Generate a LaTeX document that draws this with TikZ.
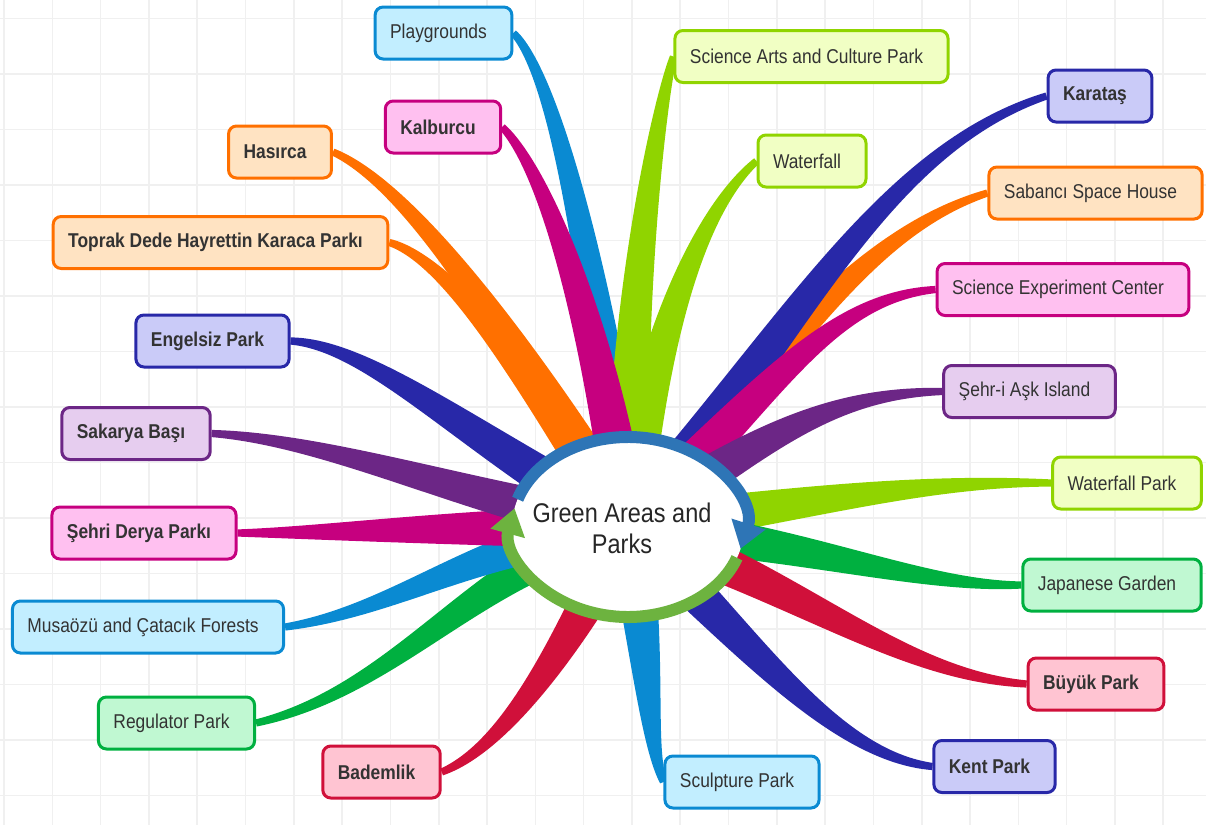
\documentclass[tikz,border=0pt]{standalone}
\usepackage{fontspec}
\setmainfont[FakeStretch=0.87]{Liberation Sans}
\usetikzlibrary{calc}
\usetikzlibrary{arrows.meta}
\usetikzlibrary{backgrounds}

\definecolor{gridC}{HTML}{F0F0F0}
\definecolor{txt}{HTML}{333333}
\definecolor{cyanC}{HTML}{0A8AD2}\definecolor{cyanF}{HTML}{C2EEFF}
\definecolor{limeC}{HTML}{90D400}\definecolor{limeF}{HTML}{F1FFC4}
\definecolor{navyC}{HTML}{2828A8}\definecolor{navyF}{HTML}{CACBF8}
\definecolor{orngC}{HTML}{FF7000}\definecolor{orngF}{HTML}{FFE3C2}
\definecolor{magC}{HTML}{C6007F}\definecolor{magF}{HTML}{FFC0F0}
\definecolor{purpC}{HTML}{6C2686}\definecolor{purpF}{HTML}{E6CDEF}
\definecolor{grnC}{HTML}{00B040}\definecolor{grnF}{HTML}{C0F8D2}
\definecolor{redC}{HTML}{D0103A}\definecolor{redF}{HTML}{FFC4D2}
\definecolor{ringB}{HTML}{2E75B6}
\definecolor{ringG}{HTML}{6DB33F}

% tapered branch: colour, end anchor, control near hub, control near end
\newcommand\twig[4]{%
\fill[#1] ($(hub)!11pt!90:(#3)$) .. controls ($(#3)!9pt!-90:(hub)$) and ($(#4)!3.5pt!90:(#2)$) .. ($(#2)!1.8pt!-90:(#4)$)
 -- ($(#2)!1.8pt!90:(#4)$) .. controls ($(#4)!3.5pt!-90:(#2)$) and ($(#3)!9pt!90:(hub)$) .. ($(hub)!11pt!-90:(#3)$) -- cycle;}

\begin{document}
\begin{tikzpicture}[x=0.5pt,y=-0.5pt,
 leaf/.style={draw, line width=1.5pt, rounded corners=4pt, minimum height=26pt, inner xsep=7.5pt, text=txt,
  font=\fontsize{10}{12}\selectfont, execute at end node={\hspace{5pt}}},
 heavy/.style={font=\fontsize{10}{12}\selectfont\bfseries},
 cyanbox/.style={leaf, draw=cyanC, fill=cyanF},
 limebox/.style={leaf, draw=limeC, fill=limeF},
 navybox/.style={leaf, draw=navyC, fill=navyF},
 orngbox/.style={leaf, draw=orngC, fill=orngF},
 magbox/.style={leaf, draw=magC, fill=magF},
 purpbox/.style={leaf, draw=purpC, fill=purpF},
 grnbox/.style={leaf, draw=grnC, fill=grnF},
 redbox/.style={leaf, draw=redC, fill=redF}]
\useasboundingbox (0,0) rectangle (1206,825);
\coordinate (hub) at (628,527);

\node[cyanbox] (pg) at (443.5,33) {Playgrounds};
\node[limebox] (sp) at (811.5,56.5) {Science Arts and Culture Park};
\node[navybox, heavy] (kr) at (1100,96) {Karataş};
\node[limebox] (wf) at (812,161) {Waterfall};
\node[orngbox] (ss) at (1095.5,193) {Sabancı Space House};
\node[magbox] (se) at (1063,289.5) {Science Experiment Center};
\node[purpbox] (sa) at (1029.5,391.5) {Şehr-i Aşk Island};
\node[limebox] (wp) at (1127,483) {Waterfall Park};
\node[grnbox] (jg) at (1112,585) {Japanese Garden};
\node[redbox, heavy] (bp) at (1096,684) {Büyük Park};
\node[navybox, heavy] (kp) at (994.5,766.5) {Kent Park};
\node[cyanbox] (sc) at (742,782) {Sculpture Park};
\node[redbox, heavy] (bd) at (381.5,772) {Bademlik};
\node[grnbox] (rg) at (176.5,723) {Regulator Park};
\node[cyanbox] (mf) at (148,627) {Musaözü and Çatacık Forests};
\node[magbox, heavy] (sd) at (144,533) {Şehri Derya Parkı};
\node[purpbox, heavy] (sk) at (136,433.5) {Sakarya Başı};
\node[navybox, heavy] (eg) at (212.5,341) {Engelsiz Park};
\node[orngbox, heavy] (tp) at (220.5,242.5) {Toprak Dede Hayrettin Karaca Parkı};
\node[orngbox, heavy] (hs) at (280,152) {Hasırca};
\node[magbox, heavy] (kb) at (443,127) {Kalburcu};

\begin{pgfonlayer}{background}
\foreach \i in {0,...,24} \draw[gridC, line width=0.8pt] ({4+48.3*\i},0) -- ({4+48.3*\i},825);
\foreach \j in {0,...,14} \draw[gridC, line width=0.8pt] (0,{18.3+55.5*\j}) -- (1206,{18.3+55.5*\j});
\twig{cyanC}{pg.east}{606,330}{560,80}
\twig{limeC}{sp.west}{625,300}{660,100}
\twig{limeC}{wf.west}{650,340}{700,210}
\twig{orngC}{ss.west}{790,340}{870,230}
\twig{navyC}{kr.west}{790,340}{880,150}
\twig{magC}{se.west}{770,390}{830,298}
\twig{purpC}{sa.west}{760,440}{830,393}
\twig{limeC}{wp.west}{800,505}{920,480}
\twig{grnC}{jg.west}{800,540}{920,587}
\twig{redC}{bp.west}{800,585}{900,675}
\twig{navyC}{kp.west}{740,630}{830,755}
\twig{cyanC}{sc.west}{650,660}{648,745}
\twig{redC}{bd.east}{575,630}{510,745}
\twig{grnC}{rg.east}{480,560}{400,690}
\twig{cyanC}{mf.east}{480,540}{400,610}
\twig{magC}{sd.east}{450,527}{330,533}
\twig{purpC}{sk.east}{470,500}{330,440}
\twig{navyC}{eg.east}{470,440}{370,345}
\twig{orngC}{tp.east}{540,390}{450,260}
\twig{orngC}{hs.east}{540,380}{420,190}
\twig{magC}{kb.east}{600,330}{545,170}
\end{pgfonlayer}

\fill[white] (hub) ellipse [x radius=116, y radius=90];
\draw[ringG, line width=6pt, -{Triangle[width=17pt,length=13pt]}] ($(hub)+(20:116 and 90)$) arc [start angle=20, end angle=192, x radius=116, y radius=90];
\draw[ringB, line width=6pt, -{Triangle[width=17pt,length=13pt]}] ($(hub)+(198:116 and 90)$) arc [start angle=198, end angle=374, x radius=116, y radius=90];
\node[font=\fontsize{13.5}{15.5}\selectfont, align=center, text=black!85] (title) at (622,528) {Green Areas and\\Parks};
\end{tikzpicture}
\end{document}
